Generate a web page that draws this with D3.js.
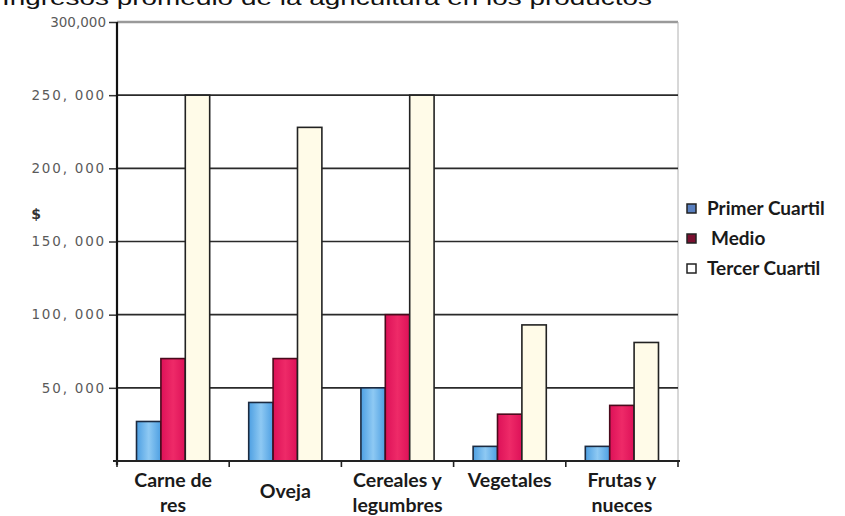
<!DOCTYPE html>
<html>
<head>
<meta charset="utf-8">
<script src="https://cdn.jsdelivr.net/npm/d3@7"></script>
<style>
  body { margin: 0; background: #fff; }
  svg { display: block; }
</style>
</head>
<body>
<div id="chart"></div>
<script>
// data
const categories = ["Carne de res", "Oveja", "Cereales y legumbres", "Vegetales", "Frutas y nueces"];
const categoryLines = [["Carne de", "res"], ["Oveja"], ["Cereales y", "legumbres"], ["Vegetales"], ["Frutas y", "nueces"]];
const seriesNames = ["Primer Cuartil", "Medio", "Tercer Cuartil"];
const primerCuartil = [27000, 40000, 50000, 10000, 10000];
const medio = [70000, 70000, 100000, 32000, 38000];
const tercerCuartil = [250000, 228000, 250000, 93000, 81000];
const yTicks = [50000, 100000, 150000, 200000, 250000, 300000];
const yTickLabels = ["50, 000", "100, 000", "150, 000", "200, 000", "250, 000", "300,000"];

const seriesValues = [primerCuartil, medio, tercerCuartil];
const data = categories.map((c, i) => ({
  cat: c,
  values: seriesNames.map((s, j) => ({ key: s, value: seriesValues[j][i] }))
}));

const W = 845, H = 516;
const margin = {top: 22, right: 167, bottom: 55, left: 117};
const width = W - margin.left - margin.right,
      height = H - margin.top - margin.bottom;

const svg = d3.select("#chart").append("svg")
  .attr("width", W).attr("height", H);

// title line, cut off at the top like in the picture
svg.append("text")
  .attr("x", 2).attr("y", 5)
  .attr("textLength", 650)
  .attr("lengthAdjust", "spacingAndGlyphs")
  .style("font-family", "Liberation Sans, Arial, sans-serif")
  .style("font-size", "21px")
  .style("fill", "#111")
  .text("Ingresos promedio de la agricultura en los productos");

const defs = svg.append("defs");
const gBlue = defs.append("linearGradient").attr("id", "gBlue");
gBlue.append("stop").attr("offset", "0%").attr("stop-color", "#4d9fe2");
gBlue.append("stop").attr("offset", "50%").attr("stop-color", "#8ec9f3");
gBlue.append("stop").attr("offset", "100%").attr("stop-color", "#4d9fe2");
const gRed = defs.append("linearGradient").attr("id", "gRed");
gRed.append("stop").attr("offset", "0%").attr("stop-color", "#dd1158");
gRed.append("stop").attr("offset", "50%").attr("stop-color", "#ee2a68");
gRed.append("stop").attr("offset", "100%").attr("stop-color", "#dd1158");

const fills = ["url(#gBlue)", "url(#gRed)", "#fffbe8"];
const strokes = ["#1b2a40", "#4a0a1c", "#222"];

const g = svg.append("g").attr("transform", `translate(${margin.left},${margin.top})`);

const x0 = d3.scaleBand().domain(categories).range([0, width]).padding(0);
const x1 = d3.scaleBand().domain(seriesNames).range([0, x0.bandwidth()])
  .paddingInner(0).paddingOuter(0.8);
const y = d3.scaleLinear().domain([0, 300000]).range([height, 0]);

// top border + right border
g.append("line").attr("x1", 0).attr("x2", width).attr("y1", y(300000)).attr("y2", y(300000))
  .attr("stroke", "#9a9a9a").attr("stroke-width", 2.5);
g.append("line").attr("x1", width).attr("x2", width).attr("y1", 0).attr("y2", height)
  .attr("stroke", "#b0b0b0").attr("stroke-width", 1);

// gridlines
g.append("g").selectAll("line")
  .data(yTicks.filter(d => d < 300000))
  .join("line")
  .attr("x1", 0).attr("x2", width)
  .attr("y1", d => y(d)).attr("y2", d => y(d))
  .attr("stroke", "#2a2a2a").attr("stroke-width", 1.6);

// bars
g.append("g").selectAll("g")
  .data(data)
  .join("g")
  .attr("transform", d => `translate(${x0(d.cat)},0)`)
  .selectAll("rect")
  .data(d => d.values)
  .join("rect")
  .attr("x", d => x1(d.key))
  .attr("y", d => y(d.value))
  .attr("width", x1.bandwidth())
  .attr("height", d => height - y(d.value))
  .attr("fill", (d, i) => fills[i])
  .attr("stroke", (d, i) => strokes[i])
  .attr("stroke-width", 1.6);

// y axis
const yAxis = g.append("g")
  .call(d3.axisLeft(y).tickValues(yTicks).tickSize(8)
    .tickFormat((d, i) => yTickLabels[i]));
yAxis.select(".domain").remove();
yAxis.selectAll(".tick line").attr("stroke", "#333").attr("stroke-width", 1.5);
yAxis.selectAll(".tick text")
  .attr("x", -11)
  .style("font-family", "DejaVu Sans, sans-serif")
  .style("font-size", "13.5px")
  .style("letter-spacing", (d) => d === 300000 ? "0px" : "1.8px")
  .style("fill", "#5a5a5a");
g.append("line").attr("x1", 0).attr("x2", 0).attr("y1", 0).attr("y2", height + 4)
  .attr("stroke", "#111").attr("stroke-width", 2.2);

// bottom axis
g.append("line").attr("x1", -4).attr("x2", width + 2).attr("y1", height).attr("y2", height)
  .attr("stroke", "#222").attr("stroke-width", 2);
g.append("g").selectAll("line")
  .data(categories.concat(["end"]))
  .join("line")
  .attr("x1", (d, i) => i * x0.step()).attr("x2", (d, i) => i * x0.step())
  .attr("y1", height).attr("y2", height + 6)
  .attr("stroke", "#222").attr("stroke-width", 1.6);

// category labels
const labelOffset = [0, 11, 0, 0, 0];
g.append("g").selectAll("text")
  .data(data)
  .join("text")
  .attr("text-anchor", "middle")
  .attr("transform", (d, i) => `translate(${x0(d.cat) + x0.bandwidth() / 2},${height + 26 + labelOffset[i]})`)
  .style("font-family", "Lato, sans-serif")
  .style("font-weight", "700")
  .style("font-size", "19.5px")
  .style("fill", "#1a1a1a")
  .selectAll("tspan")
  .data((d, i) => categoryLines[i])
  .join("tspan")
  .attr("x", 0)
  .attr("dy", (d, i) => i === 0 ? 0 : 25)
  .text(d => d);

// "$" label
svg.append("text")
  .attr("x", 36).attr("y", 219)
  .attr("text-anchor", "middle")
  .style("font-family", "DejaVu Sans, sans-serif")
  .style("font-weight", "bold")
  .style("font-size", "14px")
  .style("fill", "#333")
  .text("$");

// legend
const legFills = ["#5a80c0", "#7a1030", "#ffffff"];
const legend = svg.append("g").attr("transform", "translate(687,209)");
const li = legend.selectAll("g").data(seriesNames).join("g")
  .attr("transform", (d, i) => `translate(0,${i * 30})`);
li.append("rect").attr("x", 0).attr("y", -5).attr("width", 9).attr("height", 9)
  .attr("fill", (d, i) => legFills[i]).attr("stroke", "#222").attr("stroke-width", 1.5);
li.append("text")
  .attr("x", (d, i) => i === 1 ? 24 : 20).attr("y", 6)
  .style("font-family", "Lato, sans-serif")
  .style("font-weight", "700")
  .style("font-size", "19px")
  .style("fill", "#1a1a1a")
  .text(d => d);
</script>
</body>
</html>
